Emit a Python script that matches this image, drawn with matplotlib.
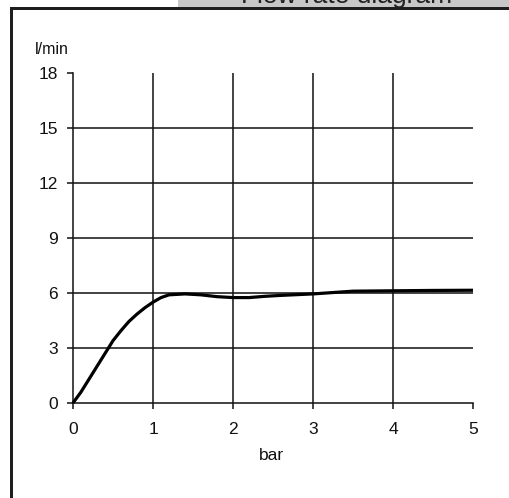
import matplotlib
matplotlib.use('Agg')
import matplotlib.pyplot as plt
from matplotlib.patches import Rectangle

# ---- data ----
pressure_bar = [0.0, 0.1, 0.2, 0.3, 0.4, 0.5, 0.6, 0.7, 0.8, 0.9, 1.0, 1.1, 1.2,
                1.4, 1.6, 1.8, 2.0, 2.2, 2.4, 2.6, 3.0, 3.5, 4.0, 4.5, 5.0]
flow_lpm = [0.0, 0.6, 1.3, 2.0, 2.7, 3.4, 3.95, 4.45, 4.85, 5.2, 5.5, 5.75, 5.9,
            5.95, 5.9, 5.8, 5.75, 5.75, 5.82, 5.87, 5.95, 6.1, 6.12, 6.14, 6.15]
x_ticks = [0, 1, 2, 3, 4, 5]
y_ticks = [0, 3, 6, 9, 12, 15, 18]
x_grid = [1, 2, 3, 4]
y_grid = [3, 6, 9, 12, 15]
title_text = "Flow rate diagram"
x_label = "bar"
y_label = "l/min"

plt.rcParams['font.family'] = ['Liberation Sans', 'DejaVu Sans']

W, H = 510, 498
fig = plt.figure(figsize=(W / 100, H / 100), dpi=100)
fig.patch.set_facecolor('white')

# frame lines of the screenshot
fig.add_artist(Rectangle((10 / W, 0), 3 / W, 491 / H, transform=fig.transFigure,
                         facecolor='#1e1e1e', edgecolor='none'))
fig.add_artist(Rectangle((10 / W, 488 / H), 500 / W, 3 / H, transform=fig.transFigure,
                         facecolor='#1e1e1e', edgecolor='none'))

# header band with the (cut) title
axh = fig.add_axes([178 / W, 491 / H, 332 / W, 7 / H])
axh.set_facecolor('#c8c8c8')
axh.set_xticks([]); axh.set_yticks([])
for s in axh.spines.values():
    s.set_visible(False)
axh.text(0.509, 4.5 / 7, title_text, transform=axh.transAxes, ha='center',
         va='baseline', fontsize=19, color='#222222', clip_on=True)

# main chart
ax = fig.add_axes([73 / W, (H - 403) / H, 400 / W, 330 / H])
ax.set_xlim(x_ticks[0], x_ticks[-1])
ax.set_ylim(y_ticks[0], y_ticks[-1])
for s in ['top', 'right']:
    ax.spines[s].set_visible(False)
for s in ['left', 'bottom']:
    ax.spines[s].set_linewidth(1.1)
    ax.spines[s].set_color('#111111')

for gx in x_grid:
    ax.axvline(gx, color='#111111', lw=1.1, zorder=1)
for gy in y_grid:
    ax.axhline(gy, color='#111111', lw=1.1, zorder=1)

ax.plot(pressure_bar, flow_lpm, color='black', lw=2.3, clip_on=False, zorder=3,
        solid_capstyle='butt')

ax.set_xticks(x_ticks)
ax.set_yticks(y_ticks)
ax.set_xticklabels([str(v) for v in x_ticks])
ax.set_yticklabels([str(v) for v in y_ticks])
ax.tick_params(axis='both', direction='out', length=4, width=1.1, color='#111111',
               labelsize=12.5, labelcolor='#111111')
ax.tick_params(axis='y', pad=7)
ax.tick_params(axis='x', pad=10)

fig.text(271 / W, 1 - 455 / H, x_label, ha='center', va='center', fontsize=12.5,
         color='#111111')
fig.text(35 / W, 1 - 49 / H, y_label, ha='left', va='center', fontsize=11.5,
         color='#111111')

fig.savefig('out.png', dpi=100)
